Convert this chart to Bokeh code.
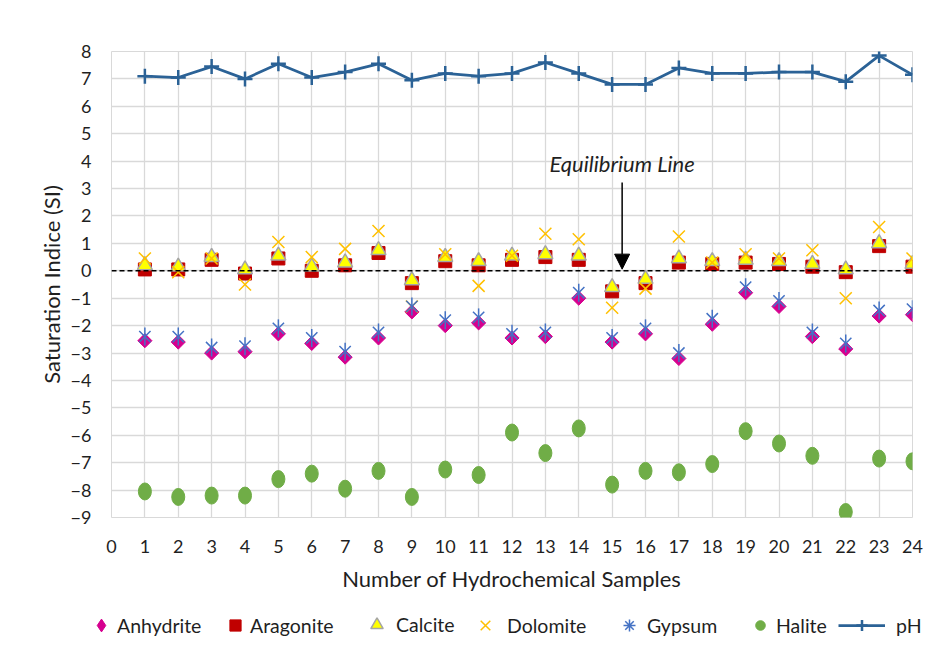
import numpy as np
from bokeh.plotting import figure
from bokeh.layouts import column
from bokeh.models import (Range1d, FixedTicker, Legend, LegendItem, Label, Arrow,
                          NormalHead, Span)
from bokeh.embed import file_html
from bokeh.resources import INLINE

# ---------------- data ----------------
samples = list(range(1, 25))
anhydrite = [-2.55, -2.6, -3.0, -2.95, -2.3, -2.65, -3.15, -2.45, -1.5, -2.0, -1.9, -2.45,
             -2.4, -1.0, -2.6, -2.3, -3.2, -1.95, -0.8, -1.3, -2.4, -2.85, -1.65, -1.6]
aragonite = [0.05, 0.05, 0.4, -0.1, 0.45, 0.0, 0.2, 0.65, -0.45, 0.35, 0.2, 0.4,
             0.5, 0.4, -0.75, -0.45, 0.3, 0.25, 0.3, 0.25, 0.15, -0.05, 0.9, 0.15]
calcite = [0.2, 0.15, 0.5, 0.05, 0.55, 0.15, 0.3, 0.75, -0.35, 0.5, 0.35, 0.55,
           0.6, 0.55, -0.6, -0.3, 0.45, 0.35, 0.4, 0.35, 0.25, 0.05, 1.0, 0.25]
dolomite = [0.45, -0.05, 0.45, -0.5, 1.05, 0.5, 0.8, 1.45, -1.3, 0.6, -0.55, 0.55,
            1.35, 1.15, -1.35, -0.65, 1.25, 0.3, 0.6, 0.45, 0.75, -1.0, 1.6, 0.45]
gypsum = [-2.4, -2.4, -2.8, -2.75, -2.1, -2.45, -2.95, -2.25, -1.3, -1.8, -1.7, -2.3,
          -2.25, -0.8, -2.45, -2.1, -3.0, -1.75, -0.6, -1.1, -2.25, -2.65, -1.45, -1.4]
halite = [-8.05, -8.25, -8.2, -8.2, -7.6, -7.4, -7.95, -7.3, -8.25, -7.25, -7.45, -5.9,
          -6.65, -5.75, -7.8, -7.3, -7.35, -7.05, -5.85, -6.3, -6.75, -8.8, -6.85, -6.95]
ph = [7.1, 7.05, 7.45, 7.0, 7.55, 7.05, 7.25, 7.55, 6.95, 7.2, 7.1, 7.2,
      7.6, 7.2, 6.8, 6.8, 7.4, 7.2, 7.2, 7.25, 7.25, 6.9, 7.85, 7.15]
x_ticks = list(range(0, 25))
y_ticks = list(range(-9, 9))
annotation_text = "Equilibrium Line"
annotation_x = 15.3
annotation_text_y = 3.9
annotation_arrow = (3.22, 0.06)

FONT = "Lato"
TXT = "#1f1f1f"
GRID = "#D9D9D9"
C_ANH, C_ARA, C_CAL, C_CALL = "#D6008F", "#C00000", "#FFFF00", "#A5A5A5"
C_DOL, C_GYP, C_HAL, C_PH = "#FFC000", "#4472C4", "#70AD47", "#2B6296"

# ---------------- main plot ----------------
p = figure(width=930, height=601, output_backend="svg", toolbar_location=None,
           x_range=Range1d(0, 24), y_range=Range1d(-9, 8),
           min_border_left=111, min_border_right=18, min_border_top=51, min_border_bottom=84)
p.frame_align = False
p.background_fill_color = "white"
p.border_fill_color = "white"
p.outline_line_color = GRID

for ax in (p.xaxis[0], p.yaxis[0]):
    ax.axis_line_color = None
    ax.major_tick_line_color = None
    ax.minor_tick_line_color = None
    ax.major_tick_out = 0
    ax.major_tick_in = 0
    ax.major_label_text_font = FONT
    ax.major_label_text_font_size = "18px"
    ax.major_label_text_color = TXT
    ax.axis_label_text_font = FONT
    ax.axis_label_text_font_size = "22px"
    ax.axis_label_text_font_style = "normal"
    ax.axis_label_text_color = TXT

p.xaxis.ticker = FixedTicker(ticks=x_ticks)
p.yaxis.ticker = FixedTicker(ticks=y_ticks)
p.xaxis.axis_label = "Number of Hydrochemical Samples"
p.yaxis.axis_label = "Saturation Indice (SI)"
p.xaxis.major_label_standoff = 22
p.xaxis.axis_label_standoff = 9
p.yaxis.major_label_standoff = 20
p.yaxis.axis_label_standoff = 3

p.xgrid.grid_line_color = GRID
p.ygrid.grid_line_color = GRID
p.xgrid.grid_line_width = 1.3
p.ygrid.grid_line_width = 1.3

p.add_layout(Span(location=0, dimension="width", line_color="black",
                  line_dash="5 3", line_width=1.5))

p.scatter(samples, anhydrite, marker="square", angle=np.pi / 4, size=10,
          fill_color=C_ANH, line_color=C_ANH)
p.scatter(samples, aragonite, marker="square", size=13, fill_color=C_ARA, line_color=C_ARA)
p.scatter(samples, calcite, marker="triangle", size=15,
          fill_color=C_CAL, line_color=C_CALL, line_width=1.5)
p.scatter(samples, dolomite, marker="x", size=17, line_color=C_DOL, line_width=1.5)
p.scatter(samples, gypsum, marker="x", size=16, line_color=C_GYP, line_width=1.5)
p.scatter(samples, gypsum, marker="dash", size=18, angle=np.pi / 2,
          line_color=C_GYP, line_width=1.5)
p.ellipse(samples, halite, width=13, height=17, width_units="screen",
          height_units="screen", fill_color=C_HAL, line_color=C_HAL)
p.line(samples, ph, line_color=C_PH, line_width=2.75)
p.scatter(samples, ph, marker="cross", size=15, line_color=C_PH, line_width=2.5)

p.add_layout(Label(x=annotation_x, y=annotation_text_y, text=annotation_text,
                   text_font=FONT, text_font_size="22px", text_font_style="italic",
                   text_align="center", text_baseline="middle", text_color=TXT))
p.add_layout(Arrow(end=NormalHead(size=15, fill_color="black", line_color="black"),
                   x_start=annotation_x, y_start=annotation_arrow[0],
                   x_end=annotation_x, y_end=annotation_arrow[1],
                   line_color="black", line_width=1.5))

# ---------------- legend strip (keys use hidden copies of the series) ----------------
leg = figure(width=930, height=48, output_backend="svg", toolbar_location=None,
             x_range=Range1d(100, 101), y_range=Range1d(100, 101),
             min_border_left=0, min_border_right=0, min_border_top=0, min_border_bottom=0)
leg.frame_align = False
leg.axis.visible = False
leg.grid.visible = False
leg.outline_line_color = None
leg.background_fill_color = "white"
leg.border_fill_color = "white"

k_anh = leg.scatter(samples, anhydrite, marker="diamond", fill_color=C_ANH,
                    line_color=C_ANH, visible=False)
k_ara = leg.scatter(samples, aragonite, marker="square", fill_color=C_ARA,
                    line_color=C_ARA, visible=False)
k_cal = leg.scatter(samples, calcite, marker="triangle", fill_color=C_CAL,
                    line_color=C_CALL, line_width=1.5, visible=False)
k_dol = leg.scatter(samples, dolomite, marker="x", line_color=C_DOL, line_width=1.5,
                    visible=False)
k_gyp = leg.scatter(samples, gypsum, marker="asterisk", line_color=C_GYP, line_width=1.5,
                    visible=False)
k_hal = leg.scatter(samples, halite, marker="circle", fill_color=C_HAL, line_color=C_HAL,
                    visible=False)
k_phl = leg.line(samples, ph, line_color=C_PH, line_width=2.75, visible=False)
k_phm = leg.scatter(samples, ph, marker="cross", line_color=C_PH, line_width=2.5,
                    visible=False)

legend_specs = [
    ("Anhydrite", [k_anh], 85, 32, 32, 0),
    ("Aragonite", [k_ara], 221, 28, 28, 1),
    ("Calcite", [k_cal], 361, 31, 31, 4),
    ("Dolomite", [k_dol], 468, 34, 34, 5),
    ("Gypsum", [k_gyp], 614, 30, 30, 3),
    ("Halite", [k_hal], 748, 24, 24, 4),
    ("pH", [k_phl, k_phm], 838, 47, 28, 11),
]
for label, rends, lx, gw, gh, st in legend_specs:
    lg = Legend(items=[LegendItem(label=label, renderers=rends)],
                location=(lx, 24 - gh // 2), orientation="horizontal",
                glyph_width=gw, glyph_height=gh, label_standoff=st,
                padding=0, margin=0, spacing=0,
                border_line_color=None, background_fill_alpha=0,
                inactive_fill_alpha=0,
                label_text_font=FONT, label_text_font_size="19.5px",
                label_text_color=TXT, label_text_baseline="middle")
    leg.add_layout(lg, "center")

layout = column(p, leg, spacing=0)
open("out.html", "w").write(file_html(layout, INLINE))
